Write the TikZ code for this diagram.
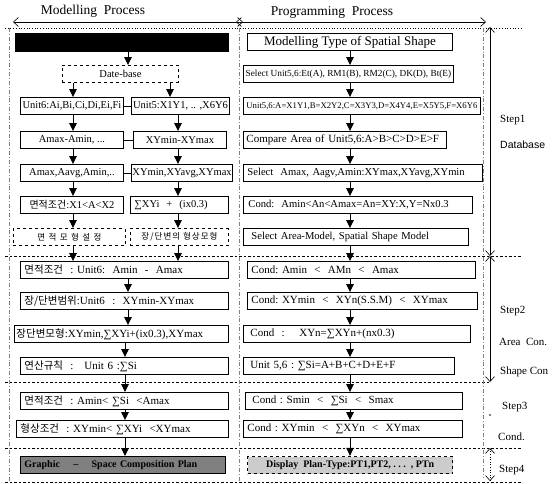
\documentclass[tikz,border=0pt]{standalone}
\usepackage{fontspec}
\setmainfont{Liberation Serif}
\setsansfont{Liberation Sans}
\newfontfamily\kr{Noto Sans CJK KR}
\newfontfamily\krs{Noto Sans CJK KR}[LetterSpace=40]
\newfontfamily\krm{Noto Sans CJK KR}[LetterSpace=12]
\usetikzlibrary{arrows.meta}
\newcommand\myfs[1]{\fontsize{#1}{#1}\selectfont}
\newcommand\K[1]{{\kr\myfs{10.5}#1}}
\tikzset{
  bx/.style={draw, line width=0.9pt, minimum height=17pt, inner ysep=0pt, inner xsep=4pt, anchor=west, align=left, font=\myfs{11}},
  bxc/.style={draw, line width=0.9pt, minimum height=17pt, inner ysep=0pt, inner xsep=1pt, anchor=west, font=\myfs{10.5}},
  dbx/.style={bxc, dashed},
  arr/.style={-{Triangle[length=8pt,width=7.5pt]}, line width=0.9pt},
  ruler/.style={{Straight Barb[length=5pt,width=9pt]}-{Straight Barb[length=5pt,width=9pt]}, line width=0.6pt},
  sep/.style={line width=0.7pt, dash pattern=on 2.5pt off 2pt},
  vsep/.style={line width=0.5pt, gray, dash pattern=on 4pt off 2pt on 0.8pt off 2pt},
  lab/.style={anchor=west, inner sep=0pt, font=\myfs{11}},
}
\begin{document}
\begin{tikzpicture}[x=1pt,y=-1pt]
\useasboundingbox (0,0) rectangle (559,484);
% titles
\node[font=\myfs{13.5}] (T1) at (93,11) {Modelling\ \ Process};
\node[font=\myfs{13.5}] (T2) at (332,12) {Programming\ \ Process};
\coordinate (t0) at (13,22); \coordinate (t1) at (243,22);
\coordinate (t2) at (236,22); \coordinate (t3) at (486,22);
\draw[ruler] (t0) -- (t1);
\draw[ruler] (t2) -- (t3);
% separators
\draw[sep, dotted, line width=0.9pt] (5,28) -- (522,28);
\draw[sep] (5,256) -- (522,256);
\draw[sep] (5,382) -- (490,382);
\draw[sep] (5,448) -- (522,448);
\draw[sep] (5,482) -- (522,482);
\draw[vsep] (9,28) -- (9,482);
\draw[vsep] (239,28) -- (239,482);
\draw[vsep] (483,28) -- (483,478);
% ruler
\coordinate (r0) at (490,27); \coordinate (r1) at (490,256);
\coordinate (r2) at (490,382); \coordinate (r3) at (490,448);
\coordinate (r4) at (490,481);
\draw[ruler] (r0) -- (r1);
\draw[ruler] (r1) -- (r2);
\draw[ruler, dotted] (r3) -- (r4);
\fill (490,415) circle (0.8pt);
% step labels
\node[lab] (S1) at (500,120) {Step1};
\node[lab, font=\sffamily\myfs{10.5}] (S1b) at (500,145) {Database};
\node[lab] (S2) at (500,311) {Step2};
\node[lab] (S2b) at (499,342) {Area\ \ Con.};
\node[lab] (S2c) at (500,372) {Shape Con};
\node[lab] (S3) at (502,407) {Step3};
\node[lab] (S3b) at (498,437) {Cond.};
\node[lab] (S4) at (499,470) {Step4};
% left column
\node[bxc, fill=black, minimum width=213pt, minimum height=18pt] (L0) at (15,42) {};
\node[dbx, minimum width=116pt] (L1) at (62,74) {Date-base};
\node[bxc, minimum width=103pt] (L2a) at (20,106) {Unit6:Ai,Bi,Ci,Di,Ei,Fi};
\node[bxc, minimum width=98pt] (L2b) at (131,106) {Unit5:X1Y1, .. ,X6Y6};
\node[bxc, minimum width=103pt] (L3a) at (20,140) {Amax-Amin, ...};
\node[bxc, minimum width=93pt] (L3b) at (133,140) {XYmin-XYmax};
\node[bxc, minimum width=103pt] (L4a) at (20,173) {Amax,Aavg,Amin,..};
\node[bxc, minimum width=97pt] (L4b) at (131,173) {XYmin,XYavg,XYmax};
\node[bxc, minimum width=103pt] (L5a) at (20,205) {{\kr\myfs{10}면적조건}:X1<A<X2};
\node[bx, text width=90pt, font=\myfs{10.5}] (L5b) at (130,205) {∑XYi\ \ +\ \ (ix0.3)};
\node[dbx, minimum width=112pt, font=\krs\myfs{8.5}] (L6a) at (13,237) {면적모형설정};
\node[dbx, minimum width=98pt, font=\krm\myfs{8.5}] (L6b) at (130,237) {장/단변의 형상모형};
\node[bx, text width=200pt] (L7) at (20,270) {\K{면적조건}\ \ :\ Unit6:\ \ Amin\ \ -\ \ Amax};
\node[bx, text width=200pt] (L8) at (20,301) {\K{장/단변범위}:Unit6\ \ :\ \ XYmin-XYmax};
\node[bx, text width=210pt, inner xsep=2pt] (L9) at (14,334) {\K{장단변모형}:XYmin,∑XYi+(ix0.3),XYmax};
\node[bx, text width=200pt] (L10) at (20,366) {\K{연산규칙}\ \ :\ \ \ Unit 6 :∑Si};
\node[bx, text width=200pt] (L11) at (20,401) {\K{면적조건}\ \ :\ Amin<\ ∑Si\ \ <Amax};
\node[bx, text width=204pt] (L12) at (16,429) {\K{형상조건}\ \ :\ XYmin<\ ∑XYi\ \ <XYmax};
\node[bx, text width=197pt, fill=black!50, font=\bfseries\myfs{10}] (L13) at (20,465) {Graphic\ \ \ \ --\ \ \ \ Space Composition Plan};
% right column
\node[bxc, minimum width=205pt, font=\myfs{13}] (R0) at (247,42) {Modelling Type of Spatial Shape};
\node[bxc, minimum width=210pt, font=\myfs{9.3}] (R1) at (243,74) {Select Unit5,6:Et(A), RM1(B), RM2(C), DK(D), Bt(E)};
\node[bxc, minimum width=237pt, font=\myfs{8.7}] (R2) at (243,106) {Unit5,6:A=X1Y1,B=X2Y2,C=X3Y3,D=X4Y4,E=X5Y5,F=X6Y6};
\node[bx, text width=197pt, inner xsep=3pt] (R3) at (243,140) {Compare\ Area\ of\ Unit5,6:A>B>C>D>E>F};
\node[bx, text width=231pt, font=\myfs{10.6}] (R4) at (243,173) {Select\ \ Amax,\ Aagv,Amin:XYmax,XYavg,XYmin};
\node[bx, text width=219pt, inner xsep=5pt, font=\myfs{10.6}] (R5) at (243,205) {Cond:\ \ Amin<An<Amax=An=XY:X,Y=Nx0.3};
\node[bx, text width=209pt, inner xsep=8pt, font=\myfs{10.6}] (R6) at (243,237) {Select Area-Model, Spatial Shape Model};
\node[bx, text width=220pt] (R7) at (247,270) {Cond:\ Amin\ \ <\ \ AMn\ \ <\ \ Amax};
\node[bx, text width=222pt] (R8) at (247,301) {Cond:\ XYmin\ \ <\ \ XYn(S.S.M)\ \ <\ \ XYmax};
\node[bx, text width=213pt, inner xsep=7pt] (R9) at (243,334) {Cond\ \ :\ \ \ \ XYn=∑XYn+(nx0.3)};
\node[bx, text width=197pt, inner xsep=7pt] (R10) at (243,366) {Unit\ 5,6\ :\ ∑Si=A+B+C+D+E+F};
\node[bx, text width=203pt, inner xsep=7pt] (R11) at (245,401) {Cond\ :\ Smin\ \ <\ \ ∑Si\ \ <\ \ Smax};
\node[bx, text width=211pt] (R12) at (243,429) {Cond\ :\ XYmin\ \ <\ \ ∑XYn\ \ <\ \ XYmax};
\node[dbx, minimum width=205pt, fill=black!20, line width=1.3pt, font=\bfseries\myfs{10}] (R13) at (247,465) {Display\ \ Plan-Type:PT1,PT2,\ .\ .\ .\ \ ,\ PTn};
% connector x positions
\coordinate (xm) at (128,0); \coordinate (xm2) at (125,0);
\coordinate (xa) at (73,0); \coordinate (xb) at (178,0); \coordinate (xb1) at (170,0);
\coordinate (xr) at (350,0);
% left arrows
\draw[arr] (L0.south -| xm) -- (L1.north -| xm);
\draw[arr] (L1.south -| xa) -- (L2a.north -| xa);
\draw[arr] (L1.south -| xb1) -- (L2b.north -| xb1);
\draw[arr] (L2a.south -| xa) -- (L3a.north -| xa);
\draw[arr] (L2b.south -| xb) -- (L3b.north -| xb);
\draw[arr] (L3a.south -| xa) -- (L4a.north -| xa);
\draw[arr] (L3b.south -| xb) -- (L4b.north -| xb);
\draw[arr] (L4a.south -| xa) -- (L5a.north -| xa);
\draw[arr] (L4b.south -| xb) -- (L5b.north -| xb);
\draw[arr] (L5a.south -| xa) -- (L6a.north -| xa);
\draw[arr] (L5b.south -| xb) -- (L6b.north -| xb);
\draw[arr] (L6a.south -| xa) -- (L7.north -| xa);
\draw[arr] (L6b.south -| xb) -- (L7.north -| xb);
\draw[arr] (L7.south -| xm) -- (L8.north -| xm);
\draw[arr] (L8.south -| xm) -- (L9.north -| xm);
\draw[arr] (L9.south -| xm2) -- (L10.north -| xm2);
\draw[arr] (L10.south -| xm2) -- (L11.north -| xm2);
\draw[arr] (L11.south -| xm2) -- (L12.north -| xm2);
\draw[arr] (L12.south -| xm2) -- (L13.north -| xm2);
\draw[line width=0.9pt] (L2a.east) -- (L2b.west);
\draw[line width=0.9pt] (L3a.east) -- (L3b.west);
\draw[line width=0.9pt] (L4a.east) -- (L4b.west);
% right arrows
\foreach \a/\b in {R0/R1,R1/R2,R2/R3,R3/R4,R4/R5,R5/R6,R6/R7,R7/R8,R8/R9,R9/R10,R10/R11,R11/R12,R12/R13}
  \draw[arr] (\a.south -| xr) -- (\b.north -| xr);
\end{tikzpicture}
\end{document}
